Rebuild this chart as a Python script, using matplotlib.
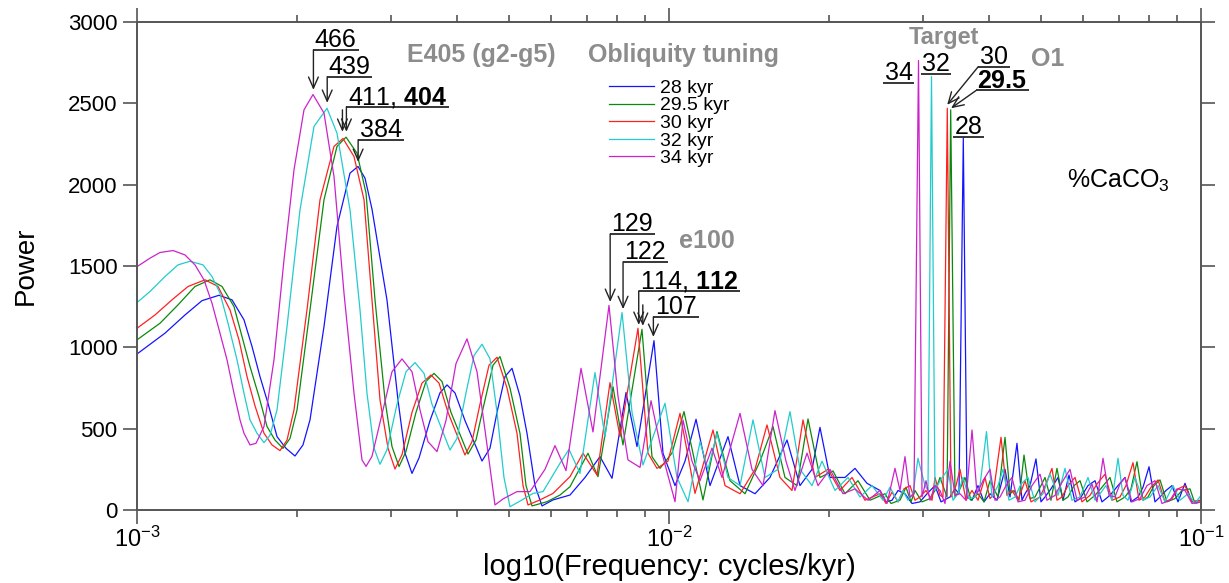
import numpy as np
import matplotlib
matplotlib.use('Agg')
import matplotlib.pyplot as plt

plt.rcParams['font.family'] = ['Liberation Sans', 'DejaVu Sans']
plt.rcParams['mathtext.fontset'] = 'custom'
plt.rcParams['mathtext.rm'] = 'Liberation Sans'
plt.rcParams['mathtext.it'] = 'Liberation Sans:italic'
plt.rcParams['mathtext.bf'] = 'Liberation Sans:bold'

# spectra: (log10 frequency [cycles/kyr], power)
spec_28 = [(-3.0000, 959), (-2.9474, 1087), (-2.9098, 1199), (-2.8778, 1287), (-2.8459, 1320),
           (-2.8214, 1292), (-2.7989, 1169), (-2.7838, 1005), (-2.7688, 820), (-2.7538, 656),
           (-2.7368, 451), (-2.7199, 379), (-2.7030, 332), (-2.6880, 400), (-2.6748, 554),
           (-2.6485, 1128), (-2.6241, 1743), (-2.5996, 2071), (-2.5846, 2112), (-2.5714, 2040),
           (-2.5583, 1850), (-2.5301, 1291), (-2.5094, 676), (-2.4962, 350), (-2.4831, 225),
           (-2.4699, 320), (-2.4492, 550), (-2.4305, 720), (-2.4173, 769), (-2.4023, 720),
           (-2.3835, 550), (-2.3515, 301), (-2.3365, 380), (-2.3233, 600), (-2.3083, 820),
           (-2.2951, 871), (-2.2801, 700), (-2.2669, 471), (-2.2519, 150), (-2.2387, 25),
           (-2.2180, 62), (-2.1861, 92), (-2.1579, 200), (-2.1297, 328), (-2.1071, 195),
           (-2.0808, 722), (-2.0602, 390), (-2.0282, 1041), (-2.0113, 349), (-1.9887, 150),
           (-1.9699, 300), (-1.9492, 558), (-1.9229, 150), (-1.8891, 451), (-1.8665, 150),
           (-1.8383, 100), (-1.8102, 200), (-1.7782, 430), (-1.7538, 150), (-1.7312, 250),
           (-1.7162, 508), (-1.6974, 200), (-1.6692, 200), (-1.6504, 256), (-1.6278, 164),
           (-1.6034, 120), (-1.5921, 50), (-1.5808, 60), (-1.5695, 120), (-1.5564, 100),
           (-1.5432, 40), (-1.5282, 50), (-1.5150, 100), (-1.5000, 150), (-1.4887, 50),
           (-1.4718, 80), (-1.4624, 130), (-1.4549, 100), (-1.4468, 2286), (-1.4398, 80),
           (-1.4304, 60), (-1.4192, 150), (-1.4079, 50), (-1.3966, 100), (-1.3835, 60),
           (-1.3684, 250), (-1.3590, 80), (-1.3459, 410), (-1.3365, 60), (-1.3308, 100),
           (-1.3214, 150), (-1.3102, 314), (-1.3008, 50), (-1.2932, 80), (-1.2820, 130),
           (-1.2688, 200), (-1.2594, 60), (-1.2481, 215), (-1.2368, 50), (-1.2274, 70),
           (-1.2124, 150), (-1.1992, 180), (-1.1861, 50), (-1.1711, 90), (-1.1560, 150),
           (-1.1429, 200), (-1.1316, 50), (-1.1184, 80), (-1.1090, 140), (-1.0977, 266),
           (-1.0865, 50), (-1.0771, 80), (-1.0658, 120), (-1.0545, 150), (-1.0432, 50),
           (-1.0301, 164), (-1.0169, 50), (-1.0000, 60)]

spec_295 = [(-3.0000, 1046), (-2.9568, 1148), (-2.9229, 1261), (-2.8910, 1374), (-2.8628, 1415),
            (-2.8402, 1374), (-2.8177, 1251), (-2.8026, 1066), (-2.7876, 882), (-2.7707, 697),
            (-2.7556, 513), (-2.7406, 430), (-2.7256, 379), (-2.7124, 440), (-2.6992, 615),
            (-2.6748, 1230), (-2.6485, 1907), (-2.6241, 2235), (-2.6071, 2292), (-2.5865, 2194),
            (-2.5695, 1948), (-2.5526, 1291), (-2.5338, 676), (-2.5207, 390), (-2.5075, 267),
            (-2.4944, 360), (-2.4756, 600), (-2.4568, 790), (-2.4417, 840), (-2.4267, 790),
            (-2.4098, 600), (-2.3778, 344), (-2.3628, 430), (-2.3477, 650), (-2.3308, 890),
            (-2.3177, 943), (-2.2989, 750), (-2.2801, 471), (-2.2688, 150), (-2.2575, 25),
            (-2.2293, 51), (-2.2049, 92), (-2.1861, 143), (-2.1523, 349), (-2.1335, 205),
            (-2.1053, 758), (-2.0865, 400), (-2.0508, 1111), (-2.0320, 328), (-2.0169, 256),
            (-1.9944, 350), (-1.9718, 605), (-1.9361, 62), (-1.9098, 482), (-1.8853, 180),
            (-1.8571, 100), (-1.8289, 300), (-1.8045, 513), (-1.7820, 200), (-1.7594, 150),
            (-1.7387, 560), (-1.7162, 200), (-1.6917, 240), (-1.6692, 100), (-1.6447, 180),
            (-1.6222, 60), (-1.5940, 100), (-1.5827, 40), (-1.5658, 60), (-1.5545, 140),
            (-1.5451, 50), (-1.5376, 120), (-1.5244, 50), (-1.5094, 70), (-1.4981, 130),
            (-1.4906, 200), (-1.4774, 80), (-1.4705, 2460), (-1.4624, 80), (-1.4530, 130),
            (-1.4436, 200), (-1.4323, 60), (-1.4192, 100), (-1.4079, 50), (-1.3966, 180),
            (-1.3816, 80), (-1.3684, 447), (-1.3590, 100), (-1.3515, 120), (-1.3421, 60),
            (-1.3327, 338), (-1.3214, 70), (-1.3120, 80), (-1.3008, 150), (-1.2932, 200),
            (-1.2820, 60), (-1.2707, 256), (-1.2594, 60), (-1.2500, 80), (-1.2387, 150),
            (-1.2274, 180), (-1.2143, 50), (-1.1992, 90), (-1.1861, 140), (-1.1711, 200),
            (-1.1579, 50), (-1.1429, 80), (-1.1316, 130), (-1.1203, 297), (-1.1090, 60),
            (-1.0996, 80), (-1.0883, 150), (-1.0771, 185), (-1.0639, 50), (-1.0489, 70),
            (-1.0357, 120), (-1.0207, 130), (-1.0113, 40), (-1.0000, 50)]

spec_30 = [(-3.0000, 1117), (-2.9662, 1199), (-2.9342, 1292), (-2.9041, 1374), (-2.8722, 1415),
           (-2.8477, 1374), (-2.8252, 1230), (-2.8083, 1046), (-2.7932, 820), (-2.7782, 640),
           (-2.7613, 472), (-2.7462, 400), (-2.7312, 365), (-2.7180, 430), (-2.7049, 615),
           (-2.6805, 1230), (-2.6560, 1907), (-2.6297, 2235), (-2.6128, 2284), (-2.5921, 2173),
           (-2.5733, 1907), (-2.5583, 1291), (-2.5432, 676), (-2.5282, 380), (-2.5150, 252),
           (-2.5019, 340), (-2.4831, 600), (-2.4643, 780), (-2.4474, 830), (-2.4323, 780),
           (-2.4154, 600), (-2.3835, 338), (-2.3703, 420), (-2.3553, 650), (-2.3383, 890),
           (-2.3233, 939), (-2.3045, 750), (-2.2857, 471), (-2.2744, 150), (-2.2650, 31),
           (-2.2425, 62), (-2.2180, 102), (-2.1861, 205), (-2.1617, 349), (-2.1353, 215),
           (-2.1109, 783), (-2.0921, 451), (-2.0583, 1117), (-2.0395, 349), (-2.0226, 256),
           (-2.0019, 300), (-1.9793, 594), (-1.9511, 102), (-1.9173, 492), (-1.8947, 150),
           (-1.8665, 100), (-1.8383, 250), (-1.8158, 523), (-1.7914, 200), (-1.7688, 120),
           (-1.7481, 554), (-1.7256, 200), (-1.7011, 250), (-1.6786, 120), (-1.6560, 200),
           (-1.6316, 60), (-1.6034, 100), (-1.5921, 40), (-1.5808, 110), (-1.5695, 50),
           (-1.5583, 130), (-1.5470, 150), (-1.5376, 60), (-1.5282, 80), (-1.5169, 120),
           (-1.5056, 60), (-1.5000, 200), (-1.4906, 90), (-1.4850, 80), (-1.4769, 2470),
           (-1.4699, 80), (-1.4605, 150), (-1.4530, 250), (-1.4417, 60), (-1.4304, 120),
           (-1.4192, 60), (-1.4060, 200), (-1.3966, 70), (-1.3910, 90), (-1.3759, 447),
           (-1.3647, 90), (-1.3553, 120), (-1.3440, 60), (-1.3308, 180), (-1.3195, 50),
           (-1.3026, 80), (-1.2914, 160), (-1.2801, 256), (-1.2707, 60), (-1.2613, 80),
           (-1.2500, 150), (-1.2368, 200), (-1.2237, 50), (-1.2086, 90), (-1.1955, 160),
           (-1.1805, 220), (-1.1673, 60), (-1.1523, 80), (-1.1410, 150), (-1.1278, 291),
           (-1.1165, 60), (-1.1053, 80), (-1.0940, 140), (-1.0808, 185), (-1.0677, 50),
           (-1.0545, 70), (-1.0432, 130), (-1.0301, 150), (-1.0169, 50), (-1.0000, 60)]

spec_32 = [(-3.0000, 1275), (-2.9756, 1343), (-2.9474, 1435), (-2.9229, 1507), (-2.9004, 1529),
           (-2.8759, 1507), (-2.8590, 1435), (-2.8440, 1333), (-2.8289, 1148), (-2.8120, 923),
           (-2.7989, 718), (-2.7876, 554), (-2.7744, 472), (-2.7613, 414), (-2.7500, 460),
           (-2.7368, 615), (-2.7180, 1128), (-2.6936, 1845), (-2.6673, 2358), (-2.6429, 2470),
           (-2.6241, 2317), (-2.5996, 1845), (-2.5808, 1230), (-2.5677, 718), (-2.5545, 380),
           (-2.5432, 281), (-2.5301, 370), (-2.5113, 650), (-2.4944, 850), (-2.4774, 906),
           (-2.4605, 840), (-2.4455, 650), (-2.4117, 369), (-2.3985, 440), (-2.3816, 720),
           (-2.3665, 950), (-2.3515, 1019), (-2.3365, 930), (-2.3233, 600), (-2.3102, 200),
           (-2.2989, 20), (-2.2763, 62), (-2.2556, 102), (-2.2368, 113), (-2.2049, 287),
           (-2.1880, 373), (-2.1673, 225), (-2.1391, 845), (-2.1203, 450), (-2.0883, 1214),
           (-2.0695, 600), (-2.0489, 277), (-2.0075, 656), (-1.9850, 200), (-1.9643, 51),
           (-1.9417, 420), (-1.9267, 250), (-1.9098, 470), (-1.8891, 200), (-1.8665, 150),
           (-1.8421, 554), (-1.8195, 200), (-1.7951, 250), (-1.7726, 605), (-1.7538, 250),
           (-1.7312, 150), (-1.7124, 300), (-1.6880, 120), (-1.6635, 200), (-1.6410, 80),
           (-1.6184, 150), (-1.5977, 60), (-1.5846, 140), (-1.5695, 50), (-1.5602, 120),
           (-1.5508, 60), (-1.5414, 100), (-1.5320, 318), (-1.5188, 150), (-1.5132, 120),
           (-1.5066, 2665), (-1.5000, 120), (-1.4906, 180), (-1.4756, 250), (-1.4662, 60),
           (-1.4568, 100), (-1.4474, 200), (-1.4361, 70), (-1.4248, 80), (-1.4154, 150),
           (-1.4032, 482), (-1.3929, 80), (-1.3816, 150), (-1.3722, 250), (-1.3609, 60),
           (-1.3496, 80), (-1.3383, 160), (-1.3252, 200), (-1.3120, 50), (-1.2970, 100),
           (-1.2838, 220), (-1.2688, 90), (-1.2556, 256), (-1.2425, 60), (-1.2274, 80),
           (-1.2124, 200), (-1.1992, 60), (-1.1898, 100), (-1.1786, 150), (-1.1673, 60),
           (-1.1560, 318), (-1.1466, 90), (-1.1372, 60), (-1.1241, 200), (-1.1090, 60),
           (-1.0959, 80), (-1.0808, 150), (-1.0677, 50), (-1.0526, 150), (-1.0395, 60),
           (-1.0244, 100), (-1.0113, 40), (-1.0000, 90)]

spec_34 = [(-3.0000, 1496), (-2.9756, 1548), (-2.9568, 1583), (-2.9323, 1595), (-2.9098, 1568),
           (-2.8910, 1507), (-2.8741, 1415), (-2.8590, 1271), (-2.8440, 1087), (-2.8308, 923),
           (-2.8177, 718), (-2.8064, 554), (-2.7989, 472), (-2.7876, 400), (-2.7763, 410),
           (-2.7613, 513), (-2.7425, 923), (-2.7237, 1538), (-2.7049, 2091), (-2.6861, 2460),
           (-2.6692, 2554), (-2.6485, 2440), (-2.6297, 2050), (-2.6109, 1333), (-2.5921, 718),
           (-2.5771, 308), (-2.5695, 268), (-2.5583, 330), (-2.5376, 615), (-2.5207, 850),
           (-2.5019, 929), (-2.4831, 850), (-2.4680, 615), (-2.4530, 420), (-2.4361, 359),
           (-2.4192, 550), (-2.4004, 900), (-2.3797, 1052), (-2.3609, 850), (-2.3421, 400),
           (-2.3271, 31), (-2.3120, 68), (-2.2857, 113), (-2.2613, 113), (-2.2331, 250),
           (-2.2143, 396), (-2.1936, 242), (-2.1654, 871), (-2.1429, 480), (-2.1128, 1258),
           (-2.0959, 700), (-2.0771, 308), (-2.0545, 262), (-2.0338, 672), (-2.0132, 350),
           (-1.9887, 51), (-1.9737, 553), (-1.9568, 300), (-1.9417, 180), (-1.9192, 380),
           (-1.9004, 200), (-1.8665, 594), (-1.8440, 250), (-1.8233, 150), (-1.8008, 611),
           (-1.7801, 300), (-1.7632, 120), (-1.7406, 350), (-1.7199, 150), (-1.6974, 250),
           (-1.6729, 100), (-1.6504, 130), (-1.6259, 60), (-1.6034, 120), (-1.5902, 40),
           (-1.5752, 256), (-1.5658, 120), (-1.5564, 328), (-1.5470, 80), (-1.5395, 100),
           (-1.5310, 2763), (-1.5244, 80), (-1.5169, 180), (-1.5094, 60), (-1.5000, 150),
           (-1.4906, 120), (-1.4812, 40), (-1.4718, 300), (-1.4624, 90), (-1.4530, 100),
           (-1.4417, 60), (-1.4304, 492), (-1.4211, 100), (-1.4098, 180), (-1.3966, 250),
           (-1.3872, 60), (-1.3778, 80), (-1.3665, 150), (-1.3553, 200), (-1.3440, 50),
           (-1.3308, 60), (-1.3177, 150), (-1.3026, 220), (-1.2895, 60), (-1.2744, 90),
           (-1.2613, 170), (-1.2462, 250), (-1.2331, 60), (-1.2180, 80), (-1.2049, 160),
           (-1.1955, 50), (-1.1842, 318), (-1.1729, 90), (-1.1617, 80), (-1.1523, 160),
           (-1.1429, 200), (-1.1297, 50), (-1.1147, 70), (-1.1015, 150), (-1.0865, 180),
           (-1.0733, 40), (-1.0583, 60), (-1.0451, 130), (-1.0301, 120), (-1.0169, 40),
           (-1.0000, 50)]

tunings = ['28 kyr', '29.5 kyr', '30 kyr', '32 kyr', '34 kyr']
colors = ['#1414ff', '#0a8a0a', '#ff2020', '#22cccc', '#cc22cc']
spectra = [spec_28, spec_295, spec_30, spec_32, spec_34]

# periods (kyr) of the annotated peaks
e405_periods = [466, 439, 411, 404, 384]
e100_periods = [129, 122, 114, 112, 107]

gray = '#8c8c8c'

fig = plt.figure(figsize=(12.29, 5.83), dpi=100)
ax = fig.add_axes([137 / 1229, 73 / 583, 1064 / 1229, 488 / 583])

lines = []
for spec, lab, c in zip(spectra, tunings, colors):
    lf, pw = zip(*spec)
    ln, = ax.plot(10 ** np.array(lf), pw, color=c, lw=0.9, label=lab)
    lines.append(ln)

ax.set_xscale('log')
ax.set_xlim(1e-3, 1e-1)
ax.set_ylim(0, 3000)
ax.set_yticks(range(0, 3001, 500))

for sp in ax.spines.values():
    sp.set_color('#555555')
    sp.set_linewidth(1.4)
ax.tick_params(which='both', direction='out', top=True, right=True, color='#555555', width=1.2)
ax.tick_params(which='major', length=10)
ax.tick_params(which='minor', length=5)
ax.tick_params(axis='y', labelsize=16, pad=4)
ax.tick_params(axis='x', labelsize=17, pad=2)

ax.set_xlabel('log10(Frequency: cycles/kyr)', fontsize=21)
ax.set_ylabel('Power', fontsize=20)
ax.xaxis.set_label_coords(0.5, -0.089)
ax.yaxis.set_label_coords(-0.092, 0.5)

# legend
ax.legend(handles=lines, loc='upper left', bbox_to_anchor=(0.444, 0.883), frameon=False,
          fontsize=14, handlelength=2.3, handletextpad=0.3, labelspacing=0.0,
          borderpad=0, borderaxespad=0)

# group labels
ax.text(4.433e-3, 2798, 'E405 (g2-g5)', ha='center', va='center', fontsize=18,
        fontweight='bold', color=gray)
ax.text(0.01067, 2798, 'Obliquity tuning', ha='center', va='center', fontsize=18,
        fontweight='bold', color=gray)
ax.text(0.01179, 1654, 'e100', ha='center', va='center', fontsize=18,
        fontweight='bold', color=gray)
ax.text(0.03288, 2905, 'Target', ha='center', va='center', fontsize=17,
        fontweight='bold', color=gray)
ax.text(0.05159, 2774, 'O1', ha='center', va='center', fontsize=18,
        fontweight='bold', color=gray)
ax.text(0.0698, 2023, '%CaCO$_3$', ha='center', va='center', fontsize=18, color='black')

arrow = dict(arrowstyle='->,head_length=0.5,head_width=0.22', color='#222222', lw=1.0,
             shrinkA=0, shrinkB=0, mutation_scale=16)
tags = []


def tag(s, x, y_line, y_tip=None, tip_x=None, ha='left', dx=1):
    t = ax.annotate(s, xy=(x, y_line), xytext=(dx, 2), textcoords='offset points',
                    ha=ha, va='baseline', fontsize=18)
    tags.append((t, x, y_line, ha))
    if y_tip is not None:
        ax.annotate('', xy=(tip_x if tip_x else x, y_tip), xytext=(x, y_line),
                    arrowprops=arrow)


def extra_arrow(x, y0, y1):
    ax.annotate('', xy=(x, y1), xytext=(x, y0), arrowprops=arrow)


# E405 peaks
tag('466', 1 / e405_periods[0], 2829, 2583)
tag('439', 1 / e405_periods[1], 2663, 2503)
tag(r'411, $\mathbf{404}$', 1 / e405_periods[3], 2478, 2325)
extra_arrow(1 / e405_periods[2], 2460, 2325)
tag('384', 1 / e405_periods[4], 2276, 2140)

# e100 peaks
tag('129', 1 / e100_periods[0], 1697, 1279)
tag('122', 1 / e100_periods[1], 1525, 1235)
tag(r'114, $\mathbf{112}$', 1 / e100_periods[2], 1347, 1138)
extra_arrow(1 / e100_periods[3], 1261, 1132)
tag('107', 1 / e100_periods[4], 1187, 1064)

# obliquity target peaks
tag('34', 0.02887, 2624, ha='right', dx=-1)
tag('32', 1 / 32, 2680, ha='center', dx=3)
tag('30', 0.03815, 2726, 2491, tip_x=1 / 30)
tag(r'$\mathbf{29.5}$', 0.03778, 2579, 2470, tip_x=1 / 29.5)
tag('28', 0.03418, 2296)

# underlines under the number labels
fig.canvas.draw()
renderer = fig.canvas.get_renderer()
inv = ax.transData.inverted()
for t, x, y_line, ha in tags:
    bb = t.get_window_extent(renderer)
    xd, yd = ax.transData.transform((x, y_line))
    if ha == 'left':
        x0, x1 = xd, bb.x1 + 2
    elif ha == 'right':
        x0, x1 = bb.x0 - 2, xd
    else:
        x0, x1 = bb.x0 - 1, bb.x1 + 1
    (ax0, _), (ax1, _) = inv.transform([(x0, yd), (x1, yd)])
    ax.plot([ax0, ax1], [y_line, y_line], color='black', lw=1.1, solid_capstyle='butt')

fig.savefig('out.png', dpi=100)
